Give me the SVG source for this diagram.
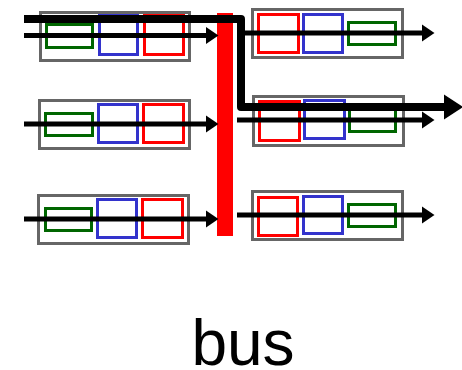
<svg xmlns="http://www.w3.org/2000/svg" width="462" height="370" viewBox="0 0 462 370">
<defs>
<style>
.box{fill:none;stroke:#666666;stroke-width:3}
.g{fill:none;stroke:#006600;stroke-width:3}
.b{fill:none;stroke:#3333cc;stroke-width:3}
.r{fill:none;stroke:#ff0000;stroke-width:3}
.a{stroke:#000;stroke-width:5;fill:none}
.t{fill:none;stroke:#000;stroke-width:8;stroke-linejoin:round}
</style>
<marker id="ah" markerUnits="userSpaceOnUse" markerWidth="13" markerHeight="18" refX="0" refY="8.5" orient="auto" overflow="visible">
<polygon points="0,0 12.5,8.5 0,17" fill="#000"/>
</marker>
<marker id="ahb" markerUnits="userSpaceOnUse" markerWidth="20" markerHeight="26" refX="0" refY="12.5" orient="auto" overflow="visible">
<polygon points="0,0 19,12.5 0,25" fill="#000"/>
</marker>
</defs>
<rect width="462" height="370" fill="#fff"/>
<g id="in1">
<rect class="box" x="40.5" y="12.5" width="149" height="48"/>
<rect class="g" x="46.5" y="24.5" width="46" height="23"/>
<rect class="b" x="99.5" y="15.5" width="38" height="39"/>
<rect class="r" x="144.5" y="15.5" width="39" height="39"/>
</g>
<g id="in2">
<rect class="box" x="39.5" y="100.5" width="150" height="48"/>
<rect class="g" x="45.5" y="113.5" width="47" height="22"/>
<rect class="b" x="98.5" y="104.5" width="39" height="38"/>
<rect class="r" x="143.5" y="104.5" width="40" height="38"/>
</g>
<g id="in3">
<rect class="box" x="38.5" y="195.5" width="150" height="48"/>
<rect class="g" x="45.5" y="208.5" width="46" height="22"/>
<rect class="b" x="97.5" y="199.5" width="39" height="38"/>
<rect class="r" x="142.5" y="199.5" width="40" height="38"/>
</g>
<g id="out1">
<rect class="box" x="252.5" y="9.5" width="150" height="48"/>
<rect class="r" x="258.5" y="14.5" width="40" height="38"/>
<rect class="b" x="303.5" y="14.5" width="39" height="38"/>
<rect class="g" x="348.5" y="22.5" width="47" height="22"/>
</g>
<g id="out2">
<rect class="box" x="253.5" y="96.5" width="150" height="49"/>
<rect class="r" x="259.5" y="101.5" width="40" height="39"/>
<rect class="b" x="304.5" y="100.5" width="40" height="38"/>
<rect class="g" x="349.5" y="109.5" width="46" height="22"/>
</g>
<g id="out3">
<rect class="box" x="252.5" y="191.5" width="150" height="48"/>
<rect class="r" x="258.5" y="197.5" width="39" height="38"/>
<rect class="b" x="303.5" y="196.5" width="39" height="37"/>
<rect class="g" x="348.5" y="204.5" width="47" height="22"/>
</g>
<g id="bus">
<rect x="217" y="13" width="16" height="223" fill="#ff0000"/>
</g>
<g id="connectors">
<line class="a" x1="24" y1="35.5" x2="206" y2="35.5" marker-end="url(#ah)"/>
<line class="a" x1="24" y1="124" x2="206" y2="124" marker-end="url(#ah)"/>
<line class="a" x1="24" y1="219" x2="206" y2="219" marker-end="url(#ah)"/>
<line class="a" x1="237" y1="33" x2="422" y2="33" marker-end="url(#ah)"/>
<line class="a" x1="237" y1="120" x2="422" y2="120" marker-end="url(#ah)"/>
<line class="a" x1="237" y1="215" x2="422" y2="215" marker-end="url(#ah)"/>
<path class="t" d="M24,19 H241 V107 H444" marker-end="url(#ahb)"/>
</g>
<text x="243" y="365" font-family="Liberation Sans, Arial, sans-serif" font-size="64" text-anchor="middle" fill="#000">bus</text>
</svg>
